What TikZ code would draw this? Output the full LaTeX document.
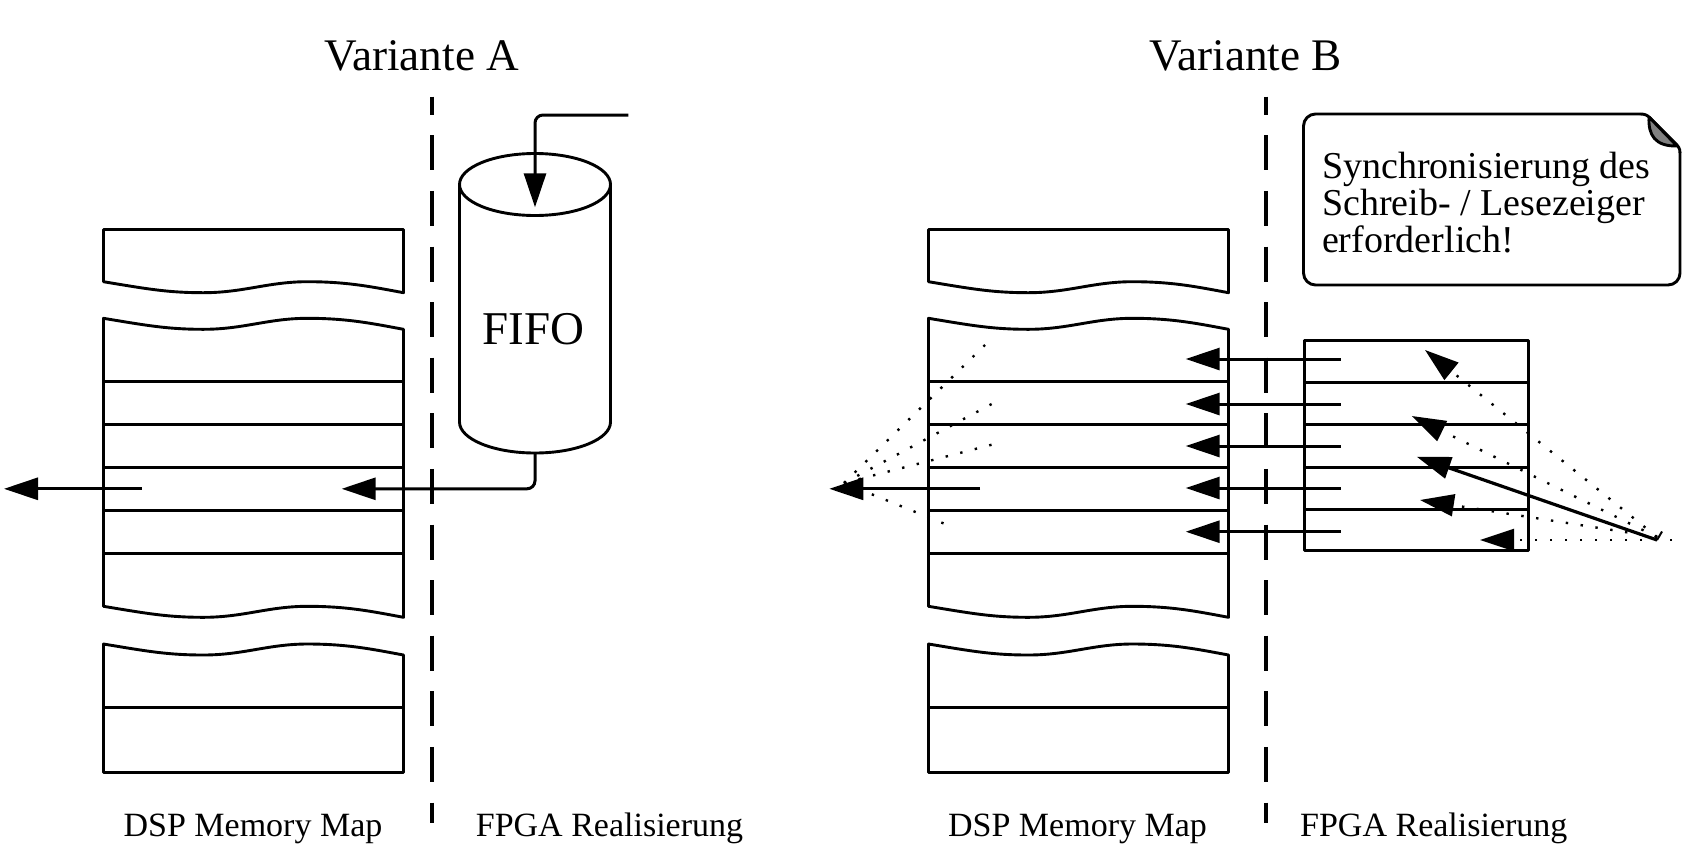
\documentclass[tikz,border=0pt]{standalone}
\usepackage{fontspec}
\setmainfont{Liberation Serif}
\usetikzlibrary{arrows.meta}
\begin{document}
\begin{tikzpicture}[x=0.5pt,y=-0.5pt,
  mem/.style={line width=1.45pt, line join=round},
  arr/.style={line width=1.5pt, -{Triangle[length=17pt,width=11pt]}},
  dotline/.style={line width=1.2pt, dash pattern=on 1.2pt off 6.3pt},
  darr/.style={dotline, -{Triangle[length=17pt,width=11pt]}},
  sep/.style={line width=1.6pt, dash pattern=on 17.5pt off 10.3pt, dash phase=8.5pt},
  title/.style={font=\fontsize{22.6pt}{27pt}\selectfont, anchor=base, inner sep=0pt},
  lbl/.style={font=\fontsize{17pt}{20pt}\selectfont, anchor=base, inner sep=0pt},
  memmap/.pic={
    % block 1
    \draw[mem] (0,229.5) -- (0,281.7) .. controls (45,289.2) and (65,292.7) .. (100,292.7)
      .. controls (140,292.7) and (165,281.7) .. (204,281.7)
      .. controls (245,281.7) and (270,287.2) .. (300,292.7) -- (300,229.5) -- cycle;
    % block 2
    \draw[mem] (0,381.5) -- (0,318.3) .. controls (45,325.8) and (65,329.3) .. (100,329.3)
      .. controls (140,329.3) and (165,318.3) .. (204,318.3)
      .. controls (245,318.3) and (270,323.8) .. (300,329.3) -- (300,381.5) -- cycle;
    % rows
    \draw[mem] (0,381.5) rectangle (300,553.5);
    \draw[mem] (0,424.5) -- (300,424.5);
    \draw[mem] (0,467.5) -- (300,467.5);
    \draw[mem] (0,510.5) -- (300,510.5);
    % block 3
    \draw[mem] (0,553.5) -- (0,606.3) .. controls (45,613.8) and (65,617.3) .. (100,617.3)
      .. controls (140,617.3) and (165,606.3) .. (204,606.3)
      .. controls (245,606.3) and (270,611.8) .. (300,617.3) -- (300,553.5) -- cycle;
    % block 4
    \draw[mem] (0,707.5) -- (0,644) .. controls (45,651.5) and (65,655) .. (100,655)
      .. controls (140,655) and (165,644) .. (204,644)
      .. controls (245,644) and (270,649.5) .. (300,655) -- (300,707.5) -- cycle;
    \draw[mem] (0,707.5) rectangle (300,772.5);
  }
]
\useasboundingbox (0,0) rectangle (1689,867);

% titles and labels
\node[title] (tA) at (421.7,70) {Variante A};
\node[title] (tB) at (1245.8,70) {Variante B};
\node[lbl] (dspA) at (253,836) {DSP Memory Map};
\node[lbl] (fpgaA) at (609.5,836) {FPGA Realisierung};
\node[lbl] (dspB) at (1077.5,836) {DSP Memory Map};
\node[lbl] (fpgaB) at (1433.8,836) {FPGA Realisierung};

% separators
\coordinate (sepAt) at (432,96.7);
\coordinate (sepAb) at (432,823);
\coordinate (sepBt) at (1266,96.7);
\coordinate (sepBb) at (1266,823);
\draw[sep] (sepAt) -- (sepAb);
\draw[sep] (sepBt) -- (sepBb);

% memory maps
\pic at (103.5,0) {memmap};
\pic at (928.5,0) {memmap};

% ---------- Variante A ----------
% FIFO cylinder
\draw[mem, fill=white] (459.5,184.5) -- (459.5,422)
  .. controls (459.5,439.1) and (493.2,453) .. (535,453)
  .. controls (576.8,453) and (610.5,439.1) .. (610.5,422) -- (610.5,184.5);
\draw[mem] (535,184.5) ellipse [x radius=75.5, y radius=31];
\node[font=\fontsize{23.5pt}{28pt}\selectfont, inner sep=0pt] (fifo) at (533.3,329.5) {FIFO};

\coordinate (fifoIn) at (628.3,115);
\coordinate (fifoTop) at (535,207.3);
\draw[arr, rounded corners=4pt] (fifoIn) -| (fifoTop);
\coordinate (fifoBot) at (535,453);
\coordinate (memAin) at (341.7,488.8);
\draw[arr, rounded corners=4pt] (fifoBot) |- (memAin);
\coordinate (memAout) at (141.7,488.8);
\coordinate (outA) at (4,488.8);
\draw[arr] (memAout) -- (outA);

% ---------- Variante B ----------
% FPGA block
\draw[mem] (1304.5,340.5) rectangle (1528.5,550.5);
\foreach \yy in {382.5,424.5,467.5,509.5} { \draw[mem] (1304.5,\yy) -- (1528.5,\yy); }

\foreach \yy [count=\i] in {359,404,446,488,531.7} {
  \coordinate (f\i) at (1340.7,\yy);
  \coordinate (m\i) at (1185.7,\yy);
  \draw[arr] (f\i) -- (m\i);
}

% output arrow B
\coordinate (memBout) at (980,488.8);
\coordinate (outB) at (829.3,488.8);
\draw[arr] (memBout) -- (outB);

% left dotted fan
\coordinate (P) at (844,483);
\coordinate (e1) at (985,345);
\coordinate (e2) at (996,401.7);
\coordinate (e3) at (993.3,444.3);
\coordinate (e4) at (951.7,526.7);
\foreach \e in {e1,e2,e3,e4} { \draw[dotline] (P) -- (\e); }

% right pointers
\coordinate (Q) at (1657,537);
\coordinate (Q3) at (1657,540);
\coordinate (Q5) at (1672,540);
\coordinate (t1) at (1425,350);
\coordinate (t2) at (1411.7,416);
\coordinate (t3) at (1416.7,456.7);
\coordinate (t4) at (1420,500);
\coordinate (t5) at (1480,540);
\coordinate (tick) at (1662,531.5);
\draw[darr] (Q) -- (t1);
\draw[darr] (Q) -- (t2);
\draw[darr] (Q) -- (t4);
\draw[darr] (Q5) -- (t5);
\draw[arr, line width=1.6pt] (Q3) -- (t3);
\draw[line width=1pt] (Q3) -- (tick);

% callout
\draw[mem, rounded corners=6pt] (1640,114) -- (1303.5,114) -- (1303.5,285) -- (1680,285) -- (1680,152);
\draw[mem] (1640,114) .. controls (1645,114) and (1647,115) .. (1650,118) -- (1675,143)
  .. controls (1678,146) and (1680,148) .. (1680,153);
\filldraw[mem, fill=gray] (1649,117) .. controls (1648,135) and (1655,146.5) .. (1677,146) -- cycle;
\node[font=\fontsize{19pt}{18.5pt}\selectfont, align=left, anchor=base west, inner sep=0pt] (note)
  at (1321.7,252) {Synchronisierung des\\Schreib- / Lesezeiger\\erforderlich!};
\end{tikzpicture}
\end{document}
